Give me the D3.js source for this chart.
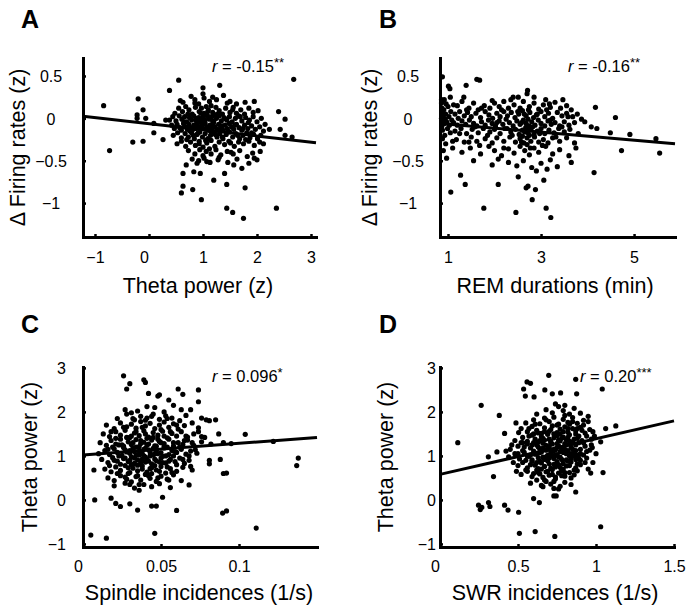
<!DOCTYPE html>
<html><head><meta charset="utf-8">
<script src="https://cdn.jsdelivr.net/npm/d3@7"></script>
<style>body{margin:0;background:#fff}</style>
</head><body>
<svg id="chart" width="695" height="611"></svg>
<script>
// ---------- DATA ----------
const pointsA = [
[-0.84,0.15],[-0.73,-0.38],[-0.20,0.23],[-0.11,0.10],[-0.22,0.04],[-0.22,0.0],[-0.06,0.0],[-0.30,-0.28],[-0.11,-0.27],[0.09,-0.17],[0.09,-0.06],[0.26,-0.25],[0.31,-0.02],[0.38,0.33],[0.55,0.45],[1.31,0.39],[2.68,0.46],[2.40,0.08],[2.52,-0.01],[2.43,-0.13],[2.52,-0.20],[2.65,-0.22],[2.23,-0.13],[2.15,-0.07],[2.36,-1.06],[1.44,-1.06],[1.55,-1.11],[1.75,-1.18],[0.97,-0.96],[0.60,-0.88],[0.63,-0.80],[0.81,-0.84],[0.63,-0.65],[0.83,-0.63],[0.95,-0.65],[1.20,-0.73],[1.44,-0.78],[1.78,-0.82],[1.40,-0.65],[1.57,-0.55],[1.72,-0.59],[1.85,-0.53],[1.82,-0.45],[2.00,-0.49],[0.69,-0.55],[0.89,-0.53],[1.07,-0.51],
[0.58,0.21],[0.63,0.19],[0.78,0.26],[0.85,0.22],[1.0,0.36],[1.0,0.29],[1.02,0.24],[1.12,0.2],[1.25,0.22],[1.38,0.27],[1.5,0.2],[1.62,0.17],[1.78,0.19],[1.95,0.2],[1.15,0.15],[0.92,0.17],
[0.48,0.06],[0.55,0.12],[0.62,0.08],[0.68,0.14],[0.74,0.1],[0.8,0.05],[0.86,0.13],[0.93,0.08],[0.97,0.12],[1.02,0.06],[1.06,0.14],[1.1,0.1],[1.18,0.07],[1.24,0.13],[1.3,0.09],[1.36,0.05],[1.42,0.12],[1.5,0.07],[1.56,0.13],[1.62,0.06],[1.7,0.1],[1.77,0.05],[1.85,0.12],[1.93,0.07],[2.02,0.09],[1.08,0.03],
[0.38,-0.02],[0.44,0.02],[0.5,-0.03],[0.56,0.03],[0.61,-0.01],[0.66,0.02],[0.7,-0.04],[0.75,0.01],[0.79,-0.02],[0.83,0.03],[0.88,-0.03],[0.92,0.01],[0.96,-0.04],[1.0,0.02],[1.04,-0.02],[1.08,0.03],[1.12,-0.01],[1.16,0.02],[1.2,-0.04],[1.25,0.0],[1.3,0.03],[1.34,-0.03],[1.39,0.01],[1.44,-0.02],[1.49,0.02],[1.54,-0.04],[1.6,0.0],[1.66,0.03],[1.72,-0.03],[1.79,0.01],[1.86,-0.02],[1.93,0.02],[2.0,-0.04],[2.08,0.0],[0.98,-0.01],[1.22,0.04],
[0.42,-0.08],[0.47,-0.12],[0.52,-0.07],[0.57,-0.11],[0.6,-0.14],[0.64,-0.06],[0.68,-0.1],[0.71,-0.13],[0.74,-0.07],[0.77,-0.11],[0.8,-0.14],[0.83,-0.08],[0.86,-0.12],[0.89,-0.06],[0.92,-0.1],[0.95,-0.13],[0.98,-0.08],[1.01,-0.12],[1.04,-0.06],[1.07,-0.1],[1.1,-0.14],[1.13,-0.08],[1.16,-0.12],[1.19,-0.06],[1.22,-0.1],[1.26,-0.13],[1.29,-0.07],[1.33,-0.11],[1.37,-0.14],[1.41,-0.08],[1.45,-0.12],[1.49,-0.06],[1.53,-0.1],[1.57,-0.13],[1.62,-0.07],[1.67,-0.11],[1.72,-0.14],[1.77,-0.08],[1.83,-0.12],[1.9,-0.09],[1.97,-0.13],[2.05,-0.1],[2.12,-0.15],[0.9,-0.09],[1.15,-0.09],[1.35,-0.09],
[0.45,-0.2],[0.53,-0.17],[0.6,-0.23],[0.67,-0.18],[0.73,-0.22],[0.79,-0.17],[0.84,-0.24],[0.89,-0.19],[0.94,-0.16],[0.99,-0.22],[1.04,-0.18],[1.09,-0.24],[1.14,-0.2],[1.2,-0.16],[1.26,-0.22],[1.31,-0.18],[1.37,-0.24],[1.43,-0.19],[1.49,-0.16],[1.55,-0.22],[1.61,-0.18],[1.68,-0.24],[1.74,-0.2],[1.81,-0.17],[1.87,-0.23],[1.94,-0.19],[2.01,-0.24],[2.07,-0.2],
[0.52,-0.3],[0.6,-0.27],[0.68,-0.33],[0.77,-0.28],[0.86,-0.32],[0.93,-0.27],[1.0,-0.34],[1.07,-0.29],[1.15,-0.26],[1.22,-0.33],[1.3,-0.28],[1.4,-0.31],[1.48,-0.27],[1.58,-0.33],[1.66,-0.28],[1.75,-0.3],[1.85,-0.27],[1.95,-0.32],[2.05,-0.28],[2.12,-0.3],
[0.73,-0.38],[0.85,-0.42],[0.94,-0.37],[1.0,-0.44],[1.06,-0.39],[1.15,-0.42],[1.24,-0.37],[1.33,-0.43],[1.45,-0.39],[1.56,-0.42],[1.68,-0.38],[1.92,-0.41],[2.06,-0.39],
[0.8,-0.48],[0.92,-0.5],[1.02,-0.47],[1.13,-0.52],[1.28,-0.49],[1.46,-0.52],[1.63,-0.48],[1.95,-0.47],
[0.65,-0.04],[0.72,0.05],[0.76,-0.15],[0.82,-0.2],[0.87,0.0],[0.91,-0.17],[0.96,0.06],[1.01,-0.05],[1.05,-0.26],[1.09,0.08],[1.14,-0.15],[1.18,-0.03],[1.23,-0.19],[1.27,0.05],[1.32,-0.13],[1.36,-0.22],[1.4,0.0],[1.46,-0.15],[1.51,-0.29],[1.55,0.1],[1.59,-0.08],[1.64,-0.2],[1.69,0.02],[1.74,-0.12],[1.79,-0.25],[1.84,-0.05],[1.9,-0.17],[0.7,-0.25],[0.93,-0.3],[1.12,-0.36],[1.3,-0.46],[1.52,-0.4],[0.85,0.18],[1.18,0.25],[1.45,0.18]
];
const pointsB = [
[0.88,0.49],[0.86,0.22],[1.01,0.38],[1.04,0.35],[1.62,0.46],[1.68,0.45],[1.39,0.39],[1.34,0.25],[1.06,-0.87],[1.27,-0.67],[1.37,-0.78],[1.77,-1.06],[2.08,-0.78],[2.46,-1.11],[2.81,-0.96],[2.68,-0.82],[2.72,-0.8],[2.88,-0.84],[3.11,-1.06],[3.21,-1.17],[3.06,-0.73],[2.51,-0.69],[4.14,-0.64],[4.17,0.13],[4.6,0.01],[4.91,-0.19],[4.73,-0.38],[4.49,-0.17],[5.47,-0.24],[5.55,-0.41],[4.2,-0.12],[4.08,-0.1],[3.87,-0.01],[3.94,-0.04],[2.71,0.33],[2.7,0.29],[3.47,0.22],[2.51,0.25],[3.18,0.17],
[0.86,0.18],[0.87,0.12],[0.88,0.07],[0.9,0.03],[0.86,0.0],[0.89,-0.03],[0.92,-0.06],[0.87,-0.09],[0.91,0.1],[0.95,0.05],[0.94,-0.01],[0.97,-0.04],[0.88,-0.14],[0.93,-0.2],[0.88,-0.24],[0.95,-0.3],[0.9,-0.38],[0.97,-0.47],[1.0,0.14],[1.02,0.02],[1.03,-0.08],[0.99,-0.12],[1.05,-0.17],[1.06,0.08],[1.08,-0.02],[1.1,-0.27],[1.12,0.16],[0.92,0.22],[0.96,0.17],
[1.2,0.15],[1.3,0.2],[1.45,0.12],[1.55,0.18],[1.65,0.1],[1.78,0.15],[1.9,0.12],[2.0,0.18],[2.1,0.14],[2.2,0.2],[2.3,0.12],[2.42,0.16],[2.55,0.12],[2.62,0.2],[2.75,0.14],[2.85,0.18],[2.95,0.11],[3.05,0.16],[3.2,0.13],[3.3,0.19],[3.42,0.12],[3.55,0.15],[3.65,0.1],[2.35,0.22],[1.95,0.21],
[1.15,0.05],[1.25,0.08],[1.35,0.03],[1.42,0.07],[1.5,0.02],[1.6,0.06],[1.7,0.01],[1.8,0.08],[1.88,0.04],[1.96,0.0],[2.05,0.06],[2.12,0.02],[2.2,0.08],[2.28,0.03],[2.36,0.07],[2.44,0.01],[2.52,0.05],[2.6,0.09],[2.68,0.03],[2.76,0.07],[2.84,0.01],[2.92,0.05],[3.0,0.08],[3.08,0.02],[3.16,0.06],[3.25,0.0],[3.35,0.07],[3.45,0.03],[3.55,0.06],[3.68,0.02],[3.78,0.05],
[1.12,-0.05],[1.2,-0.08],[1.3,-0.03],[1.38,-0.07],[1.46,-0.02],[1.55,-0.06],[1.62,-0.09],[1.72,-0.04],[1.8,-0.08],[1.87,-0.02],[1.95,-0.06],[2.02,-0.09],[2.1,-0.03],[2.18,-0.07],[2.25,-0.01],[2.32,-0.05],[2.4,-0.09],[2.48,-0.03],[2.55,-0.07],[2.62,-0.02],[2.68,-0.06],[2.74,-0.09],[2.8,-0.04],[2.87,-0.08],[2.94,-0.02],[3.0,-0.06],[3.08,-0.09],[3.15,-0.03],[3.22,-0.07],[3.3,-0.05],[3.4,-0.09],[3.5,-0.04],[3.6,-0.08],[3.72,-0.05],[2.58,-0.05],[2.72,-0.01],
[1.15,-0.15],[1.28,-0.12],[1.4,-0.18],[1.52,-0.13],[1.65,-0.17],[1.76,-0.12],[1.9,-0.16],[2.0,-0.13],[2.12,-0.18],[2.22,-0.12],[2.35,-0.16],[2.45,-0.13],[2.53,-0.19],[2.6,-0.14],[2.67,-0.11],[2.72,-0.17],[2.78,-0.13],[2.85,-0.19],[2.92,-0.15],[3.0,-0.12],[3.08,-0.18],[3.17,-0.14],[3.28,-0.17],[3.38,-0.12],[3.5,-0.16],[3.62,-0.13],[3.8,-0.18],[2.65,-0.16],[2.75,-0.2],
[1.18,-0.25],[1.35,-0.28],[1.5,-0.22],[1.62,-0.27],[1.8,-0.24],[1.95,-0.29],[2.05,-0.23],[2.2,-0.27],[2.33,-0.22],[2.45,-0.28],[2.55,-0.24],[2.63,-0.29],[2.7,-0.23],[2.78,-0.27],[2.86,-0.22],[2.95,-0.28],[3.05,-0.25],[3.15,-0.29],[3.25,-0.23],[3.4,-0.27],[3.55,-0.23],[3.72,-0.29],[2.6,-0.21],
[1.3,-0.4],[1.48,-0.35],[1.7,-0.42],[1.88,-0.33],[2.0,-0.38],[2.15,-0.44],[2.3,-0.36],[2.42,-0.41],[2.55,-0.33],[2.65,-0.38],[2.75,-0.43],[2.85,-0.35],[2.95,-0.4],[3.1,-0.33],[3.25,-0.42],[3.4,-0.37],[3.6,-0.44],[3.75,-0.35],[2.7,-0.31],
[1.55,-0.5],[1.95,-0.55],[2.08,-0.48],[2.3,-0.52],[2.48,-0.56],[2.62,-0.5],[2.8,-0.58],[3.0,-0.53],[3.2,-0.49],[3.35,-0.57],[3.65,-0.52],[2.9,-0.62],[3.13,-0.6],
[1.22,0.0],[1.4,0.1],[1.58,-0.1],[1.72,0.12],[1.85,-0.2],[2.05,-0.05],[2.15,0.1],[2.27,-0.12],[2.38,-0.2],[2.5,0.08],[2.58,-0.28],[2.64,0.05],[2.69,-0.13],[2.73,0.1],[2.77,-0.35],[2.82,-0.1],[2.9,0.04],[2.97,-0.18],[3.03,-0.32],[3.12,0.1],[3.2,-0.02],[3.32,-0.22],[3.45,-0.1],[3.58,0.02],[1.05,0.25],[1.1,-0.35],[1.25,-0.18],[1.45,-0.28],[1.68,-0.32],[2.2,-0.35],[2.4,0.25],[2.85,0.25],[3.1,0.22]
];
const pointsC = [
[0.005,-0.80],[0.015,-0.87],[0.0075,0.0],[0.007,0.68],[0.018,0.04],[0.021,-0.08],[0.024,-0.15],[0.03,-0.09],[0.035,-0.23],[0.044,-0.14],[0.047,-0.14],[0.051,0.06],[0.046,-0.76],[0.060,-0.24],[0.0895,-0.30],[0.092,-0.25],[0.09,0.6],[0.092,0.61],[0.088,0.92],[0.081,0.9],[0.081,0.82],[0.087,1.5],[0.104,1.49],[0.111,-0.64],[0.122,1.33],[0.138,0.95],[0.137,0.78],[0.026,2.82],[0.028,2.52],[0.030,2.64],[0.039,2.73],[0.040,2.67],[0.061,2.52],[0.064,2.4],[0.074,2.5],[0.074,2.23],[0.055,2.27],[0.049,2.39],[0.048,2.36],[0.042,2.42],[0.069,2.05],[0.076,1.86],[0.079,1.82],[0.081,1.8],[0.085,1.82],[0.074,1.55],[0.076,1.44],[0.072,1.14],[0.069,0.76],[0.068,0.34],[0.095,1.28],
[0.027,2.05],[0.035,2.02],[0.041,2.12],[0.046,2.1],[0.052,2.0],[0.058,2.15],[0.031,1.98],[0.063,2.05],
[0.022,1.85],[0.028,1.95],[0.033,1.82],[0.037,1.9],[0.041,1.86],[0.045,1.95],[0.049,1.83],[0.053,1.91],[0.057,1.86],[0.062,1.8],[0.066,1.92],[0.04,1.81],
[0.015,1.7],[0.02,1.62],[0.024,1.75],[0.028,1.66],[0.031,1.72],[0.034,1.63],[0.037,1.78],[0.04,1.68],[0.043,1.74],[0.046,1.62],[0.049,1.7],[0.052,1.77],[0.055,1.65],[0.058,1.73],[0.061,1.61],[0.065,1.69],[0.07,1.75],[0.074,1.64],
[0.013,1.5],[0.017,1.44],[0.021,1.55],[0.024,1.47],[0.027,1.58],[0.03,1.42],[0.033,1.52],[0.036,1.46],[0.039,1.57],[0.042,1.43],[0.045,1.53],[0.048,1.47],[0.051,1.56],[0.054,1.41],[0.057,1.51],[0.06,1.45],[0.063,1.55],[0.067,1.43],[0.071,1.5],[0.078,1.42],
[0.011,1.3],[0.015,1.24],[0.018,1.35],[0.021,1.27],[0.024,1.38],[0.026,1.22],[0.029,1.32],[0.031,1.26],[0.034,1.37],[0.036,1.21],[0.039,1.31],[0.041,1.25],[0.044,1.36],[0.046,1.23],[0.049,1.33],[0.052,1.28],[0.055,1.38],[0.058,1.22],[0.061,1.3],[0.064,1.26],[0.067,1.36],[0.071,1.24],[0.076,1.32],[0.082,1.27],[0.09,1.3],
[0.01,1.05],[0.014,1.12],[0.017,1.03],[0.02,1.16],[0.022,1.08],[0.025,1.01],[0.027,1.14],[0.03,1.06],[0.032,1.18],[0.034,1.02],[0.036,1.11],[0.038,1.05],[0.04,1.17],[0.043,1.09],[0.045,1.02],[0.047,1.13],[0.05,1.07],[0.052,1.18],[0.055,1.03],[0.057,1.12],[0.06,1.08],[0.063,1.15],[0.066,1.04],[0.069,1.11],[0.073,1.06],[0.028,1.09],[0.042,1.14],
[0.012,0.92],[0.016,0.85],[0.019,0.96],[0.022,0.88],[0.024,0.81],[0.026,0.94],[0.029,0.87],[0.031,0.98],[0.033,0.83],[0.035,0.91],[0.037,0.85],[0.04,0.97],[0.042,0.88],[0.044,0.82],[0.046,0.93],[0.049,0.86],[0.051,0.99],[0.053,0.84],[0.056,0.92],[0.059,0.87],[0.062,0.95],[0.065,0.83],[0.068,0.9],[0.038,0.93],[0.047,0.89],
[0.014,0.7],[0.018,0.64],[0.021,0.75],[0.024,0.67],[0.027,0.78],[0.03,0.62],[0.032,0.72],[0.035,0.66],[0.038,0.77],[0.041,0.63],[0.044,0.73],[0.047,0.68],[0.05,0.76],[0.053,0.61],[0.056,0.71],[0.06,0.65],[0.064,0.74],[0.07,0.68],
[0.016,0.5],[0.02,0.44],[0.024,0.55],[0.028,0.47],[0.031,0.41],[0.034,0.53],[0.037,0.45],[0.04,0.58],[0.043,0.49],[0.047,0.42],[0.05,0.54],[0.054,0.47],[0.058,0.57],[0.063,0.44],
[0.02,0.32],[0.027,0.38],[0.033,0.27],[0.036,0.22],[0.039,0.35],[0.044,0.3],[0.049,0.37],[0.056,0.28],
[0.026,1.19],[0.029,0.73],[0.031,1.45],[0.033,1.1],[0.035,0.79],[0.037,1.28],[0.039,1.0],[0.041,1.4],[0.043,0.71],[0.045,1.17],[0.048,1.38],[0.05,0.95],[0.052,1.22],[0.054,0.75],[0.034,1.55],[0.04,0.86],[0.046,1.05],[0.03,0.9],[0.023,1.0],[0.058,1.0],
[0.025,1.25],[0.027,0.95],[0.028,1.42],[0.029,0.6],[0.03,1.12],[0.031,0.8],[0.032,1.3],[0.033,0.95],[0.034,1.2],[0.035,0.55],[0.036,1.02],[0.037,1.35],[0.038,0.7],[0.039,1.15],[0.04,1.5],[0.041,0.92],[0.042,1.27],[0.043,1.0],[0.044,0.6],[0.045,1.42],[0.046,0.78],[0.047,1.22],[0.048,1.05],[0.049,0.65],[0.05,1.3],[0.051,0.85],[0.052,1.45],[0.053,1.0],[0.054,1.2],[0.055,0.88],[0.056,1.55],[0.057,0.62],[0.058,1.3],[0.059,1.1],[0.06,0.8],[0.062,1.2],[0.064,0.92],[0.066,1.45],[0.019,1.2],[0.02,0.9],[0.021,1.4],[0.022,0.6],[0.023,1.25],[0.017,0.78],[0.016,1.15],[0.018,1.55],[0.026,1.65],[0.032,1.85],[0.038,1.65],[0.044,1.9],[0.05,1.6],[0.054,1.85],[0.06,1.7],[0.065,1.35],[0.068,1.0],[0.07,1.3],[0.027,0.52],[0.036,0.35],[0.042,0.55],[0.048,0.5],[0.055,0.45],[0.03,0.35]
];
const pointsD = [
[0.114,1.30],[0.264,2.15],[0.38,1.92],[0.31,0.98],[0.365,1.09],[0.343,0.53],[0.414,1.51],[0.423,1.11],[0.247,-0.12],[0.268,-0.17],[0.258,-0.22],[0.311,-0.06],[0.32,-0.15],[0.414,-0.12],[0.436,-0.23],[0.504,-0.28],[0.509,-0.76],[0.61,-0.72],[0.736,-0.83],[1.03,-0.61],[0.60,0.03],[0.637,-0.06],[0.73,0.09],[0.745,0.09],[0.87,0.18],[0.966,0.61],[1.045,0.62],[0.976,1.19],[1.03,1.32],[1.062,1.62],[1.127,1.68],[1.04,2.52],[0.876,2.41],[0.87,2.74],[0.697,2.83],[0.558,2.68],[0.58,2.65],[0.536,2.52],[0.547,2.36],[0.603,2.34],[0.672,2.5],[0.72,2.41],[0.773,2.43],[0.487,1.75],[0.504,1.53],[0.53,1.3],
[0.62,1.95],[0.68,2.05],[0.72,1.98],[0.76,2.12],[0.79,2.03],[0.83,1.95],[0.86,2.08],[0.9,1.97],[0.74,2.18],[0.8,2.15],
[0.55,1.75],[0.6,1.82],[0.64,1.73],[0.67,1.86],[0.7,1.78],[0.73,1.88],[0.76,1.72],[0.79,1.83],[0.82,1.76],[0.85,1.87],[0.88,1.74],[0.92,1.81],[0.95,1.78],
[0.52,1.62],[0.56,1.55],[0.59,1.67],[0.62,1.58],[0.65,1.51],[0.67,1.64],[0.7,1.56],[0.72,1.68],[0.75,1.53],[0.77,1.61],[0.8,1.66],[0.82,1.54],[0.85,1.62],[0.87,1.57],[0.9,1.65],[0.93,1.52],[0.96,1.6],[0.98,1.55],
[0.48,1.35],[0.53,1.42],[0.56,1.33],[0.59,1.47],[0.61,1.38],[0.63,1.31],[0.65,1.44],[0.67,1.36],[0.69,1.49],[0.71,1.33],[0.73,1.41],[0.75,1.46],[0.77,1.34],[0.79,1.43],[0.81,1.37],[0.83,1.48],[0.85,1.32],[0.88,1.4],[0.91,1.35],[0.94,1.45],[0.97,1.38],
[0.45,1.15],[0.5,1.22],[0.53,1.12],[0.56,1.27],[0.58,1.18],[0.6,1.11],[0.62,1.25],[0.64,1.16],[0.66,1.29],[0.68,1.13],[0.7,1.21],[0.72,1.27],[0.74,1.14],[0.76,1.23],[0.78,1.17],[0.8,1.28],[0.82,1.12],[0.84,1.2],[0.87,1.25],[0.9,1.15],[0.93,1.22],[0.96,1.13],[0.63,1.2],[0.75,1.19],
[0.44,0.98],[0.48,1.05],[0.51,0.93],[0.54,1.08],[0.57,0.99],[0.59,0.91],[0.61,1.04],[0.63,0.96],[0.65,1.09],[0.67,0.92],[0.69,1.01],[0.71,1.07],[0.73,0.94],[0.75,1.03],[0.77,0.97],[0.79,1.08],[0.81,0.91],[0.83,1.0],[0.86,1.06],[0.89,0.95],[0.92,1.02],[0.68,0.98],[0.72,1.0],
[0.5,0.78],[0.53,0.85],[0.56,0.73],[0.59,0.88],[0.61,0.79],[0.63,0.71],[0.65,0.84],[0.67,0.76],[0.69,0.89],[0.71,0.72],[0.73,0.81],[0.75,0.87],[0.77,0.74],[0.79,0.83],[0.81,0.77],[0.84,0.86],[0.87,0.73],[0.9,0.8],[0.55,0.9],
[0.52,0.58],[0.56,0.65],[0.59,0.53],[0.62,0.68],[0.64,0.59],[0.66,0.51],[0.68,0.64],[0.7,0.56],[0.72,0.69],[0.74,0.52],[0.76,0.61],[0.78,0.67],[0.8,0.54],[0.83,0.62],[0.86,0.57],[0.88,0.66],
[0.58,0.38],[0.62,0.45],[0.65,0.33],[0.68,0.42],[0.71,0.36],[0.74,0.48],[0.77,0.31],[0.8,0.4],[0.84,0.35],[0.66,0.3],[0.73,0.26],[0.76,0.25],
[0.57,1.45],[0.6,1.3],[0.62,1.05],[0.64,0.88],[0.66,1.4],[0.68,1.24],[0.7,0.95],[0.71,1.6],[0.73,1.12],[0.74,0.75],[0.76,1.36],[0.77,1.5],[0.78,0.92],[0.79,1.2],[0.8,0.62],[0.81,1.05],[0.82,1.42],[0.83,1.72],[0.84,0.95],[0.85,1.15],[0.86,0.68],[0.87,1.5],[0.88,1.02],[0.89,1.3],[0.9,0.9],[0.91,1.58],[0.92,1.7],[0.93,0.85],[0.94,1.1],[0.95,1.9],[0.58,1.02],[0.6,0.6],[0.61,1.72],[0.63,1.52],[0.64,1.08],[0.65,0.7],[0.66,0.97],[0.67,1.55],[0.68,1.82],[0.69,1.15],[0.7,0.82],[0.71,1.28],[0.72,0.58],[0.73,1.5],[0.74,1.02],[0.75,1.7],[0.76,0.8],[0.77,1.1],[0.78,1.4],[0.79,0.7],[0.8,1.92],[0.81,1.25],[0.82,0.88],[0.83,1.33],[0.84,0.5],[0.85,1.78],[0.86,1.0],[0.87,1.12],[0.88,0.82],[0.89,1.45],[0.54,1.2],[0.55,0.68],[0.56,1.0],[0.57,1.62],[0.58,0.8],[0.59,1.25],[0.6,1.5],[0.62,0.85],[0.63,0.62],[0.64,1.35],[0.66,1.18],[0.67,0.45],[0.69,0.65],[0.7,1.38],[0.72,1.1],[0.73,0.42],[0.75,1.28],[0.76,0.98],[0.78,0.55],[0.79,1.55],[0.8,1.15],[0.82,1.62],[0.83,0.78],[0.84,1.05],[0.86,1.38],[0.87,0.92],[0.88,1.62],[0.9,1.05],[0.92,1.3],[0.94,0.95],[0.5,1.05],[0.52,1.3],[0.47,0.85],[0.46,1.25],[0.49,0.65],[0.97,1.25],[0.99,1.45],[1.0,1.05],[0.98,0.85],[0.95,0.7]
];
// regression fits: [intercept, slope]
const fitA = [-0.064, -0.072];
const fitB = [-0.021, -0.0475];
const fitC = [1.02, 2.67];
const fitD = [0.58, 0.81];
// axis ticks
const ticksAx = [-1, 0, 1, 2, 3];
const ticksAy = [0.5, 0, -0.5, -1];
const ticksBx = [1, 3, 5];
const ticksBy = [0.5, 0, -0.5, -1];
const ticksCx = [0, 0.05, 0.1];
const ticksCy = [3, 2, 1, 0, -1];
const ticksDx = [0, 0.5, 1, 1.5];
const ticksDy = [3, 2, 1, 0, -1];
// texts
const panelLetters = ["A", "B", "C", "D"];
const xTitles = ["Theta power (z)", "REM durations (min)", "Spindle incidences (1/s)", "SWR incidences (1/s)"];
const yTitles = ["Δ Firing rates (z)", "Δ Firing rates (z)", "Theta power (z)", "Theta power (z)"];
const rValues = ["-0.15", "-0.16", "0.096", "0.20"];
const rStars = ["**", "**", "*", "***"];

// ---------- LAYOUT ----------
const FONT = "'Liberation Sans', Arial, Helvetica, sans-serif";
const layout = [
  {left:83, right:316, top:58, bottom:237, xDom:[-1.222,3.093], yDom:[-1.40,0.712],
   letter:[21,28], rPos:[212,72], yLab:{anchor:"middle", dx:-32}, xLabY:263, xTitle:[198,293], yTitleX:25},
  {left:440, right:675, top:58, bottom:237, xDom:[0.828,5.88], yDom:[-1.40,0.712],
   letter:[379,28], rPos:[568,72], yLab:{anchor:"middle", dx:-32}, xLabY:263, xTitle:[555,293], yTitleX:377},
  {left:83, right:317, top:367, bottom:547, xDom:[0,0.15], yDom:[-1.07,3.02],
   letter:[21,333], rPos:[212,382], yLab:{anchor:"end", dx:-17}, xLabY:572, xTitle:[199,600], yTitleX:37},
  {left:440, right:674, top:367, bottom:547, xDom:[0,1.5], yDom:[-1.07,3.02],
   letter:[379,333], rPos:[580,382], yLab:{anchor:"end", dx:-4}, xLabY:572, xTitle:[555,600], yTitleX:393}
];
const pts = [pointsA, pointsB, pointsC, pointsD];
const fits = [fitA, fitB, fitC, fitD];
const xTicks = [ticksAx, ticksBx, ticksCx, ticksDx];
const yTicks = [ticksAy, ticksBy, ticksCy, ticksDy];

const svg = d3.select("#chart");
svg.append("rect").attr("width",695).attr("height",611).attr("fill","#fff");

layout.forEach((L, i) => {
  const x = d3.scaleLinear().domain(L.xDom).range([L.left, L.right]);
  const y = d3.scaleLinear().domain(L.yDom).range([L.bottom, L.top]);
  const g = svg.append("g");

  g.append("g").selectAll("circle").data(pts[i]).join("circle")
    .attr("cx", d => x(d[0])).attr("cy", d => y(d[1])).attr("r", 2.6).attr("fill", "#000");

  const f = fits[i];
  g.append("line")
    .attr("x1", x(L.xDom[0])).attr("y1", y(f[0] + f[1]*L.xDom[0]))
    .attr("x2", x(L.xDom[1])).attr("y2", y(f[0] + f[1]*L.xDom[1]))
    .attr("stroke", "#000").attr("stroke-width", 3);

  const ya = g.append("g").attr("transform", `translate(${L.left},0)`)
    .call(d3.axisLeft(y).tickValues(yTicks[i]).tickSize(-3).tickSizeOuter(0).tickFormat(d3.format("")));
  ya.select(".domain").attr("stroke-width", 3).attr("stroke-linecap","square");
  ya.selectAll(".tick line").attr("stroke-width", 2.5).attr("x2", 3);
  ya.selectAll(".tick text").attr("x", L.yLab.dx).attr("text-anchor", L.yLab.anchor)
    .attr("font-family", FONT).attr("font-size", 16).attr("fill", "#000").attr("dy", "0.36em");

  const xa = g.append("g").attr("transform", `translate(0,${L.bottom})`)
    .call(d3.axisBottom(x).tickValues(xTicks[i]).tickSize(-3).tickSizeOuter(0).tickFormat(d3.format("")));
  xa.select(".domain").attr("stroke-width", 3).attr("stroke-linecap","square");
  xa.selectAll(".tick line").attr("stroke-width", 2.5).attr("y2", -3);
  xa.selectAll(".tick text").attr("y", L.xLabY - L.bottom).attr("dy", 0)
    .attr("dx", d => d === 0 ? -5 : 0)
    .attr("font-family", FONT).attr("font-size", 16).attr("fill", "#000");

  g.append("text").attr("x", L.xTitle[0]).attr("y", L.xTitle[1]).attr("text-anchor","middle")
    .attr("font-family", FONT).attr("font-size", 21.5).text(xTitles[i]);
  g.append("text").attr("transform", `translate(${L.yTitleX},${(L.top+L.bottom)/2}) rotate(-90)`)
    .attr("text-anchor","middle").attr("font-family", FONT).attr("font-size", 21.5).text(yTitles[i]);

  g.append("text").attr("x", L.letter[0]).attr("y", L.letter[1])
    .attr("font-family", FONT).attr("font-weight","bold").attr("font-size", 25).text(panelLetters[i]);

  const t = g.append("text").attr("x", L.rPos[0]).attr("y", L.rPos[1])
    .attr("font-family", FONT).attr("font-size", 16.5);
  t.append("tspan").attr("font-style","italic").text("r");
  t.append("tspan").text(" = " + rValues[i]);
  t.append("tspan").attr("font-size", 13).attr("dy", -5).text(rStars[i]);
});
</script>
</body></html>
